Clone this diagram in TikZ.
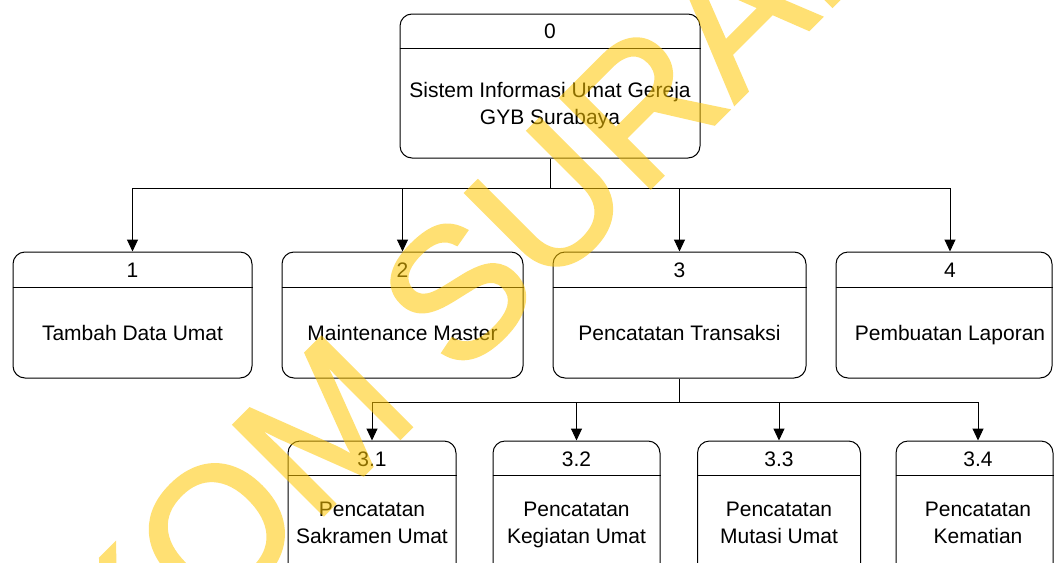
\documentclass[tikz,border=0pt]{standalone}
\usepackage{fontspec}
\setmainfont{Liberation Sans}
\newfontfamily\wmfont{Liberation Sans}[FakeBold=1.5]
\usetikzlibrary{arrows.meta}
\definecolor{wmyellow}{RGB}{255,200,0}
\begin{document}
\begin{tikzpicture}[x=1pt,y=-1pt,
  proc/.style={draw, line width=1pt, rounded corners=12pt, inner sep=0pt},
  lbl/.style={inner sep=0pt, anchor=base, font=\fontsize{21}{27}\selectfont},
  conn/.style={line width=1pt},
  arr/.style={line width=1pt, -{Triangle[width=11pt,length=12pt]}},
  wm/.style={inner sep=0pt, anchor=base west, text=wmyellow,
    font=\wmfont\fontsize{185}{185}\selectfont}]
\clip (0,0) rectangle (1054,562);
\fill[white] (0,0) rectangle (1054,562);
% level 0
\node[proc, minimum width=300pt, minimum height=144pt] (p0) at (550,86) {};
\draw[conn] ([yshift=-35pt]p0.north west) -- ([yshift=-35pt]p0.north east);
\node[lbl] (p0n) at (550,38) {0};
\node[lbl] (p0a) at (550,97) {Sistem Informasi Umat Gereja};
\node[lbl] (p0b) at (550,124) {GYB Surabaya};
% level 1
\node[proc, minimum width=239pt, minimum height=126pt] (p1) at (132.5,315) {};
\node[proc, minimum width=241pt, minimum height=126pt] (p2) at (402.5,315) {};
\node[proc, minimum width=253pt, minimum height=126pt] (p3) at (679.5,315) {};
\node[proc, minimum width=216pt, minimum height=126pt] (p4) at (944,315) {};
\foreach \n in {p1,p2,p3,p4}{
  \draw[conn] ([yshift=-36pt]\n.north west) -- ([yshift=-36pt]\n.north east);
}
\node[lbl] (p1n) at (132.5,277) {1};
\node[lbl] (p1t) at (132.5,340) {Tambah Data Umat};
\node[lbl] (p2n) at (402.5,277) {2};
\node[lbl] (p2t) at (402.5,340) {Maintenance Master};
\node[lbl] (p3n) at (679.5,277) {3};
\node[lbl] (p3t) at (679.5,340) {Pencatatan Transaksi};
\node[lbl] (p4n) at (950,277) {4};
\node[lbl] (p4t) at (950,340) {Pembuatan Laporan};
% level 2
\node[proc, minimum width=168pt, minimum height=159pt] (p31) at (372,520.5) {};
\node[proc, minimum width=167pt, minimum height=159pt] (p32) at (576.5,520.5) {};
\node[proc, minimum width=163pt, minimum height=159pt] (p33) at (779,520.5) {};
\node[proc, minimum width=157pt, minimum height=159pt] (p34) at (974.5,520.5) {};
\foreach \n in {p31,p32,p33,p34}{
  \draw[conn] ([yshift=-35pt]\n.north west) -- ([yshift=-35pt]\n.north east);
}
\node[lbl] (p31n) at (372,466) {3.1};
\node[lbl] (p31a) at (372,516) {Pencatatan};
\node[lbl] (p31b) at (372,543) {Sakramen Umat};
\node[lbl] (p32n) at (576.5,466) {3.2};
\node[lbl] (p32a) at (576.5,516) {Pencatatan};
\node[lbl] (p32b) at (576.5,543) {Kegiatan Umat};
\node[lbl] (p33n) at (779,466) {3.3};
\node[lbl] (p33a) at (779,516) {Pencatatan};
\node[lbl] (p33b) at (779,543) {Mutasi Umat};
\node[lbl] (p34n) at (978,466) {3.4};
\node[lbl] (p34a) at (978,516) {Pencatatan};
\node[lbl] (p34b) at (978,543) {Kematian};
% connectors level 0 -> 1
\coordinate (j0) at (550,188);
\draw[conn] (p0.south) -- (j0);
\draw[arr] (j0) -| (p1.north);
\draw[arr] (j0) -| (p2.north);
\draw[arr] (j0) -| (p3.north);
\draw[arr] (j0) -| ([xshift=6pt]p4.north);
% connectors 3 -> 3.x
\coordinate (j3) at (679.5,402);
\draw[conn] (p3.south) -- (j3);
\draw[arr] (j3) -| (p31.north);
\draw[arr] (j3) -| (p32.north);
\draw[arr] (j3) -| (p33.north);
\draw[arr] (j3) -| ([xshift=3.5pt]p34.north);
% watermark
\begin{scope}[transparency group, opacity=0.55]
\node[wm, rotate=45] (wm) at (-79.6,918.2) {STIKOM SURABAYA};
\end{scope}
\end{tikzpicture}
\end{document}
